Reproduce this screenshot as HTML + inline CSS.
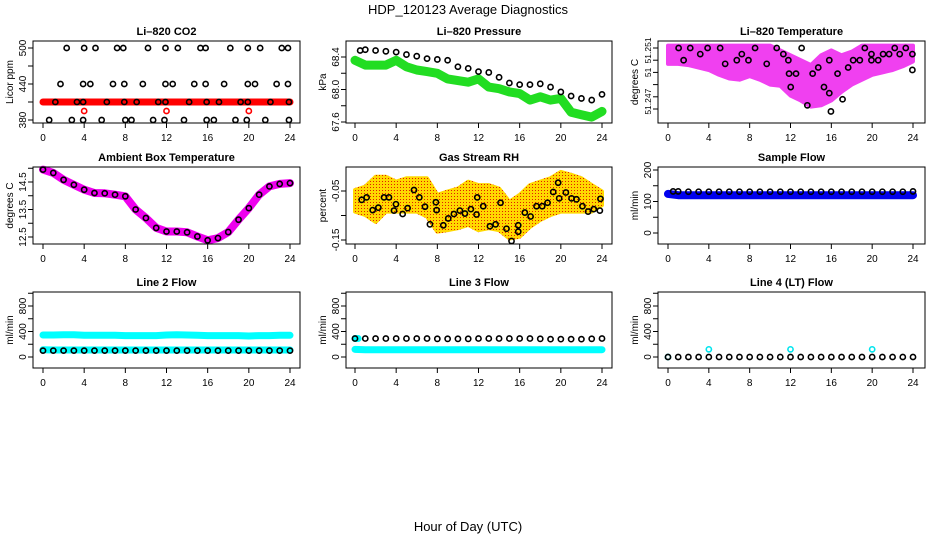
<!DOCTYPE html>
<html><head><meta charset="utf-8"><title>HDP_120123 Average Diagnostics</title>
<style>
html,body{margin:0;padding:0;background:#fff;}
svg text{font-family:"Liberation Sans",sans-serif;}
</style></head>
<body>
<svg id="chart" xmlns="http://www.w3.org/2000/svg" width="936" height="540" viewBox="0 0 936 540">
<defs>
<pattern id="rhpat" width="3" height="3" patternUnits="userSpaceOnUse">
<rect width="3" height="3" fill="#ffd800"/><rect x="1" y="1" width="1" height="1" fill="#e02000"/>
</pattern>
</defs>
<text x="468" y="14" text-anchor="middle" font-size="13">HDP_120123  Average Diagnostics</text>
<text x="468" y="531" text-anchor="middle" font-size="13">Hour of Day (UTC)</text>
</svg>
<script>
// ---- shared axis data ----
const xTicks = [0,4,8,12,16,20,24];
const xTickLabels = ["0","4","8","12","16","20","24"];
const hourly = [0,1,2,3,4,5,6,7,8,9,10,11,12,13,14,15,16,17,18,19,20,21,22,23,24];

// ---- Li-820 CO2 ----
const co2Ticks = [380,410,440,470,500];
const co2TickLabels = ["380","","440","","500"];
const co2BandHours = [0,24];
const co2BandVals = [410,410];
const co2BlackHours = [2.3,4.0,5.1,7.2,7.8,10.2,11.9,13.1,15.3,15.8,18.2,19.9,21.1,23.2,23.8,
  1.7,3.9,4.6,6.8,7.9,9.7,11.9,12.6,14.7,15.8,17.6,19.9,20.6,22.7,23.8,
  1.2,3.3,3.9,6.2,7.9,9.1,11.2,11.9,14.2,15.9,17.1,19.2,19.9,22.1,23.9,
  0.6,2.8,3.9,5.7,8.0,8.6,10.7,11.8,13.7,15.9,16.6,18.7,19.8,21.6,23.9];
const co2BlackVals = [500,500,500,500,500,500,500,500,500,500,500,500,500,500,500,
  440,440,440,440,440,440,440,440,440,440,440,440,440,440,440,
  410,410,410,410,410,410,410,410,410,410,410,410,410,410,410,
  380,380,380,380,380,380,380,380,380,380,380,380,380,380,380];
const co2RedHours = [4,12,20];
const co2RedVals = [395,395,395];

// ---- Li-820 Pressure ----
const presTicks = [67.6,67.8,68.0,68.2,68.4];
const presTickLabels = ["67.6","","68.0","","68.4"];
const presGreen = [68.36,68.30,68.30,68.30,68.36,68.28,68.24,68.22,68.20,68.13,68.11,68.09,68.13,68.03,68.01,67.97,67.95,67.87,67.91,67.87,67.89,67.72,67.69,67.66,67.73];
const presBlackHours = [0.5,1,2,3,4,5,6,7,8,9,10,11,12,13,14,15,16,17,18,19,20,21,22,23,24];
const presBlackVals = [68.48,68.49,68.48,68.47,68.46,68.43,68.41,68.38,68.37,68.36,68.28,68.26,68.22,68.21,68.15,68.08,68.06,68.06,68.07,68.03,67.97,67.92,67.89,67.87,67.94];

// ---- Li-820 Temperature ----
const tempTicks = [51.247,51.248,51.249,51.250,51.251,51.252];
const tempLabelVals = [51.2476,51.2500,51.2518];
const tempLabelText = ["51.247","51","51.251"];
const tempTop = [51.2522,51.2522,51.2522,51.2522,51.2522,51.2522,51.2522,51.2522,51.2522,51.2522,51.2522,51.2518,51.2514,51.2510,51.2506,51.2514,51.2518,51.2514,51.2517,51.2522,51.2522,51.2522,51.2522,51.2522,51.2522];
const tempBot = [51.2507,51.2507,51.2506,51.2504,51.2502,51.2498,51.2495,51.2494,51.2497,51.2494,51.2490,51.2489,51.2481,51.2477,51.2472,51.2473,51.2477,51.2484,51.2490,51.2494,51.2498,51.2500,51.2502,51.2505,51.2509];
const tempBlackHours = [1.04,2.18,1.53,3.16,3.88,5.11,5.60,6.74,7.23,7.88,8.53,9.67,10.65,11.30,11.79,11.86,12.02,12.54,13.09,13.65,14.17,14.72,15.28,15.80,15.80,15.96,16.61,17.10,17.65,18.14,18.79,19.28,19.93,19.93,20.59,21.07,21.66,22.21,22.70,23.29,23.94,23.94];
const tempBlackVals = [51.2520,51.2520,51.2510,51.2515,51.2520,51.2520,51.2507,51.2510,51.2515,51.2510,51.2520,51.2507,51.2520,51.2515,51.2510,51.2499,51.2488,51.2499,51.2520,51.2473,51.2499,51.2504,51.2488,51.2510,51.2483,51.2468,51.2499,51.2478,51.2504,51.2510,51.2510,51.2520,51.2515,51.2510,51.2510,51.2515,51.2515,51.2520,51.2515,51.2520,51.2515,51.2502];

// ---- Ambient Box Temperature ----
const ambTicks = [12.5,13,13.5,14,14.5,15];
const ambTickLabels = ["12.5","","13.5","","14.5",""];
const ambVals = [14.95,14.83,14.58,14.40,14.22,14.10,14.09,14.04,13.98,13.50,13.19,12.83,12.70,12.70,12.67,12.52,12.38,12.46,12.68,13.13,13.55,14.04,14.34,14.43,14.46];

// ---- Gas Stream RH ----
const rhTicks = [-0.15,-0.10,-0.05];
const rhTickLabels = ["-0.15","","-0.05"];
const rhTop = [-0.048,-0.041,-0.021,-0.021,-0.031,-0.024,-0.024,-0.024,-0.058,-0.051,-0.045,-0.031,-0.038,-0.038,-0.045,-0.072,-0.058,-0.038,-0.031,-0.024,-0.011,-0.017,-0.024,-0.038,-0.051];
const rhBot = [-0.092,-0.099,-0.113,-0.092,-0.092,-0.092,-0.092,-0.102,-0.133,-0.130,-0.126,-0.119,-0.130,-0.126,-0.130,-0.147,-0.143,-0.123,-0.109,-0.099,-0.092,-0.092,-0.092,-0.092,-0.079];
const rhBlackHours = [0.65,1.13,1.72,2.27,2.82,3.30,3.79,3.98,4.63,5.11,5.73,6.25,6.80,7.28,7.86,7.93,8.58,9.06,9.61,10.19,10.68,11.26,11.81,11.88,12.46,13.11,13.66,14.14,14.72,15.21,15.86,15.86,16.50,17.06,17.64,18.19,18.71,19.26,19.74,19.84,20.49,21.04,21.52,22.10,22.65,23.20,23.79,23.85];
const rhBlackVals = [-0.068,-0.063,-0.089,-0.084,-0.063,-0.063,-0.090,-0.077,-0.097,-0.085,-0.048,-0.063,-0.082,-0.118,-0.073,-0.089,-0.120,-0.106,-0.097,-0.090,-0.096,-0.087,-0.098,-0.063,-0.081,-0.122,-0.118,-0.074,-0.127,-0.152,-0.120,-0.133,-0.094,-0.102,-0.081,-0.081,-0.074,-0.052,-0.033,-0.065,-0.053,-0.065,-0.067,-0.081,-0.092,-0.087,-0.090,-0.066];

// ---- Sample Flow ----
const sfTicks = [0,50,100,150,200];
const sfTickLabels = ["0","","100","","200"];
const sfBlue = [124,120,120,120,120,120,120,120,120,120,120,120,120,120,120,120,120,120,120,120,120,120,120,120,120];
const sfBlackHours = [0.5,1,2,3,4,5,6,7,8,9,10,11,12,13,14,15,16,17,18,19,20,21,22,23,24];
const sfBlack = [132,132,131,131,131,131,131,131,131,131,131,131,131,131,131,131,131,131,131,131,131,131,131,131,132];

// ---- Line flows ----
const flowTicks = [0,200,400,600,800,1000];
const flowTickLabels = ["0","","400","","800",""];
const l2CyanHi = [345,345,350,350,340,340,340,340,335,335,335,335,345,350,345,340,335,335,335,335,330,335,335,340,340];
const l2CyanLo = [115,110,110,110,110,110,110,110,110,110,110,110,110,110,110,110,110,110,110,110,110,110,110,110,110];
const l2Black = [100,100,100,100,100,100,100,100,100,100,100,100,100,100,100,100,100,100,100,100,100,100,100,100,100];
const l3Cyan = [120,115,115,115,115,115,115,115,115,115,115,115,115,115,115,115,115,115,115,115,115,115,115,115,115];
const l3CyanStartHours = [0,0.3];
const l3CyanStartVals = [290,290];
const l3Black = [290,290,290,290,290,290,290,290,285,285,285,285,290,290,290,290,290,290,285,280,280,280,280,285,290];
const l4Black = [0,0,0,0,0,0,0,0,0,0,0,0,0,0,0,0,0,0,0,0,0,0,0,0,0];
const l4CyanHours = [0,4,12,20];
const l4CyanVals = [0,120,120,120];

// ---- drawing helpers ----
const NS = "http://www.w3.org/2000/svg";
const svg = document.getElementById('chart');
function el(tag, attrs, parent){
  const e = document.createElementNS(NS, tag);
  for (const k in attrs) e.setAttribute(k, attrs[k]);
  (parent || svg).appendChild(e);
  return e;
}

function makePanel(p){
  const g = el('g', {});
  
  
  const x = h => p.h0 + (p.h24 - p.h0) * h / 24;
  const y = v => p.pA + (v - p.vA) * (p.pB - p.pA) / (p.vB - p.vA);
  const t = el('text', {x:(p.bx0+p.bx1)/2, y:p.by0-6, 'text-anchor':'middle', 'font-size':11, 'font-weight':'bold'}, g);
  t.textContent = p.title;
  
  
  const yl = el('text', {x:p.bx0-20, y:(p.by0+p.by1)/2, 'text-anchor':'middle', 'font-size':10, transform:`rotate(-90 ${p.bx0-20} ${(p.by0+p.by1)/2})`}, g);
  yl.textContent = p.ylabel;
  
  
  const xa = el('g', {}, g);
  
  
  xTicks.forEach((h, i) => {
    el('line', {x1:x(h), x2:x(h), y1:p.by1, y2:p.by1+5, stroke:'#000', 'stroke-width':1}, xa);
    const tl = el('text', {x:x(h), y:p.by1+18, 'text-anchor':'middle', 'font-size':10}, xa);
    tl.textContent = xTickLabels[i];
  });
  const ya = el('g', {}, g);
  
  
  p.ticks.forEach((v, i) => {
    el('line', {x1:p.bx0-5, x2:p.bx0, y1:y(v), y2:y(v), stroke:'#000', 'stroke-width':1}, ya);
  });
  const lv = p.labelVals || p.ticks;
  const fs = p.labelSize || 10;
  lv.forEach((v, i) => {
    const s = p.labels[i];
    if (!s) return;
    const tx = p.bx0-7, ty = y(v);
    const tl = el('text', {x:tx, y:ty, 'text-anchor':'middle', 'font-size':fs, transform:`rotate(-90 ${tx} ${ty})`}, ya);
    tl.textContent = s;
  });
  const plot = el('g', {}, g);
  
  
  const box = el('rect', {x:p.bx0, y:p.by0, width:p.bx1-p.bx0, height:p.by1-p.by0, fill:'none', stroke:'#000', 'stroke-width':1});
  
  
  g.appendChild(box);
  return {x, y, g: plot};
}

function band(P, hours, vals, color, w, name){
  const pts = hours.map((h, i) => P.x(h).toFixed(1) + ',' + P.y(vals[i]).toFixed(1)).join(' ');
  const pl = el('polyline', {points:pts, fill:'none', stroke:color, 'stroke-width':w, 'stroke-linejoin':'round', 'stroke-linecap':'round'}, P.g);
  
  
}
function area(P, hours, top, bot, fill, name){
  const a = hours.map((h, i) => P.x(h).toFixed(1) + ',' + P.y(top[i]).toFixed(1));
  const b = hours.map((h, i) => P.x(h).toFixed(1) + ',' + P.y(bot[i]).toFixed(1)).reverse();
  const pg = el('polygon', {points:a.concat(b).join(' '), fill:fill, stroke:fill, 'stroke-width':4, 'stroke-linejoin':'round'}, P.g);
  
  
}
function pts(P, hours, vals, color, name){
  const gg = el('g', {}, P.g);
  
  
  hours.forEach((h, i) => {
    el('circle', {cx:P.x(h), cy:P.y(vals[i]), r:2.6, fill:'none', stroke:color, 'stroke-width':1.6}, gg);
  });
}

// columns and rows geometry
const C = [{bx0:33,bx1:300,h0:43,h24:290},{bx0:346,bx1:612,h0:355,h24:602},{bx0:658,bx1:925,h0:668,h24:913}];
const R = [{by0:41,by1:123},{by0:167,by1:244},{by0:292,by1:368}];
function geo(c, r){ return Object.assign({}, C[c], R[r]); }

// Panel 1 CO2
let P = makePanel(Object.assign(geo(0,0), {name:'co2', title:'Li\u2013820 CO2', ylabel:'Licor ppm', vA:380, pA:120, vB:500, pB:48, ticks:co2Ticks, labels:co2TickLabels}));
band(P, co2BandHours, co2BandVals, '#ff0000', 7, 'co2-raw-band');
pts(P, co2RedHours, co2RedVals, '#ff0000', 'co2-raw-outliers');
pts(P, co2BlackHours, co2BlackVals, '#000', 'co2-average-points');

// Panel 2 Pressure
P = makePanel(Object.assign(geo(1,0), {name:'pressure', title:'Li\u2013820 Pressure', ylabel:'kPa', vA:67.6, pA:122, vB:68.4, pB:57, ticks:presTicks, labels:presTickLabels}));
band(P, hourly, presGreen, '#22dd22', 9, 'pressure-raw-band');
pts(P, presBlackHours, presBlackVals, '#000', 'pressure-average-points');

// Panel 3 Temperature
P = makePanel(Object.assign(geo(2,0), {name:'licor-temp', title:'Li\u2013820 Temperature', ylabel:'degrees C', vA:51.247, pA:109, vB:51.252, pB:48, ticks:tempTicks, labelVals:tempLabelVals, labels:tempLabelText, labelSize:8.5}));
area(P, hourly, tempTop, tempBot, '#f040f0', 'licor-temp-raw-cloud');
pts(P, tempBlackHours, tempBlackVals, '#000', 'licor-temp-average-points');

// Panel 4 Ambient
P = makePanel(Object.assign(geo(0,1), {name:'ambient-temp', title:'Ambient Box Temperature', ylabel:'degrees C', vA:12.5, pA:237, vB:14.5, pB:182, ticks:ambTicks, labels:ambTickLabels}));
band(P, hourly, ambVals, '#ee00ee', 8, 'ambient-raw-band');
pts(P, hourly, ambVals, '#000', 'ambient-average-points');

// Panel 5 RH
P = makePanel(Object.assign(geo(1,1), {name:'rh', title:'Gas Stream RH', ylabel:'percent', vA:-0.05, pA:191, vB:-0.15, pB:240, ticks:rhTicks, labels:rhTickLabels}));
area(P, hourly, rhTop, rhBot, 'url(#rhpat)', 'rh-raw-cloud');
pts(P, rhBlackHours, rhBlackVals, '#000', 'rh-average-points');

// Panel 6 Sample flow
P = makePanel(Object.assign(geo(2,1), {name:'sample-flow', title:'Sample Flow', ylabel:'ml/min', vA:0, pA:233, vB:200, pB:170, ticks:sfTicks, labels:sfTickLabels}));
band(P, hourly, sfBlue, '#0000ee', 8, 'sample-flow-raw-band');
pts(P, sfBlackHours, sfBlack, '#000', 'sample-flow-average-points');

// Panel 7 Line 2
P = makePanel(Object.assign(geo(0,2), {name:'line2-flow', title:'Line 2 Flow', ylabel:'ml/min', vA:0, pA:357, vB:800, pB:306, ticks:flowTicks, labels:flowTickLabels}));
band(P, hourly, l2CyanHi, '#00ffff', 7, 'line2-raw-high-band');
band(P, hourly, l2CyanLo, '#00ffff', 7, 'line2-raw-low-band');
pts(P, hourly, l2Black, '#000', 'line2-average-points');

// Panel 8 Line 3
P = makePanel(Object.assign(geo(1,2), {name:'line3-flow', title:'Line 3 Flow', ylabel:'ml/min', vA:0, pA:357, vB:800, pB:306, ticks:flowTicks, labels:flowTickLabels}));
band(P, hourly, l3Cyan, '#00ffff', 7, 'line3-raw-band');
band(P, l3CyanStartHours, l3CyanStartVals, '#00ffff', 7, 'line3-raw-start');
pts(P, hourly, l3Black, '#000', 'line3-average-points');

// Panel 9 Line 4
P = makePanel(Object.assign(geo(2,2), {name:'line4-flow', title:'Line 4 (LT) Flow', ylabel:'ml/min', vA:0, pA:357, vB:800, pB:306, ticks:flowTicks, labels:flowTickLabels}));
pts(P, l4CyanHours, l4CyanVals, '#00e5ee', 'line4-raw-points');
pts(P, hourly, l4Black, '#000', 'line4-average-points');
</script>
</body></html>
